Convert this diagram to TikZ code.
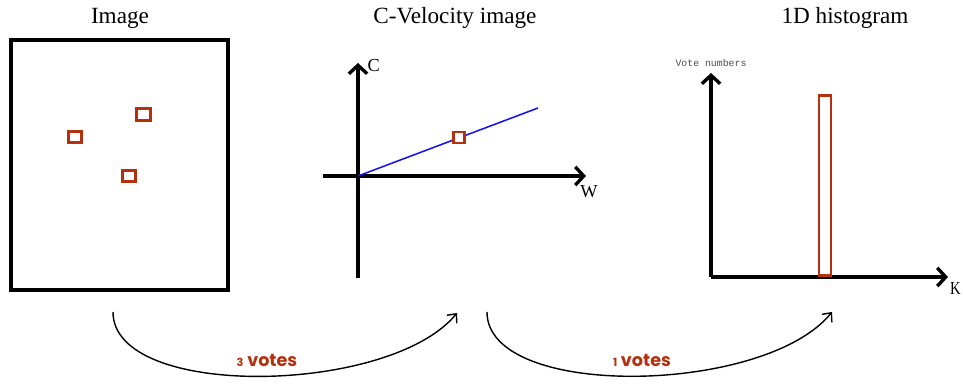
\documentclass[tikz,border=0pt]{standalone}
\usepackage{fontspec}
\setmainfont{Liberation Serif}
\newfontfamily\votefont{Poppins}
\newfontfamily\axisfont{Liberation Mono}
\usetikzlibrary{arrows.meta,positioning,calc}
\definecolor{ink}{HTML}{000000}
\definecolor{votered}{HTML}{B5300E}
\definecolor{lineblue}{HTML}{1414F0}
\tikzset{
  every node/.style={text=ink},
  title/.style={font=\fontsize{16.5}{18}\selectfont},
  frame/.style={draw=ink, line width=2.4pt, inner sep=0pt},
  pix/.style={draw=votered, line width=2pt, inner sep=0pt, minimum width=0.33cm, minimum height=0.28cm},
  axis/.style={-{Straight Barb[length=6pt, width=13pt]}, draw=ink, line width=2.4pt},
  axlabel/.style={font=\fontsize{13}{14}\selectfont, inner sep=1pt},
  bar/.style={draw=votered, line width=2pt, inner sep=0pt, minimum width=0.3cm},
  vote/.style={-{Straight Barb[length=5pt, width=9pt]}, draw=ink, line width=1pt},
  votelabel/.style={font=\votefont\bfseries\fontsize{12.5}{14}\selectfont, text=votered},
}

\begin{document}
\begin{tikzpicture}[x=0.025cm, y=-0.025cm]
  \useasboundingbox (0,0) rectangle (963,385);

  % --- panel 1: image ------------------------------------------------------
  \node[title] (t1) at (120,18) {Image};
  \node[frame, minimum width=5.425cm, minimum height=6.25cm] (img) at (119.5,165) {};
  \node[pix] (p1) at (75,137) {};
  \node[pix] (p2) at (143.5,114.5) {};
  \node[pix] (p3) at (129,176) {};

  % --- panel 2: c-velocity image -------------------------------------------
  \node[title] (t2) at (455,18) {C-Velocity image};
  \coordinate (o2) at (358,176);
  \coordinate (y2a) at (358,278);
  \coordinate (y2b) at (358,63);
  \coordinate (x2a) at (323,176);
  \coordinate (x2b) at (586,176);
  \draw[axis] (y2a) -- (y2b);
  \draw[axis] (x2a) -- (x2b);
  \node[axlabel, anchor=west] (c2) at (366,66) {C};
  \node[axlabel, anchor=north] (w2) at (589,184) {W};
  \coordinate (l2) at (538,108);
  \draw[lineblue, line width=1.1pt] (o2) -- (l2);
  \node[pix, fill=white, line width=1.6pt, minimum width=0.28cm, minimum height=0.26cm] (p4) at (459,137.5) {};

  % --- panel 3: 1d histogram -----------------------------------------------
  \node[title] (t3) at (845,18) {1D histogram};
  \coordinate (o3) at (711,277);
  \coordinate (y3b) at (711,73);
  \coordinate (x3b) at (948,277);
  \draw[axis] (o3) -- (y3b);
  \draw[axis] (o3) -- (x3b);
  \node[font=\axisfont\fontsize{7}{8}\selectfont, text=ink!70] (vn) at (711,63) {Vote numbers};
  \node[axlabel, anchor=west, inner sep=0pt, xscale=0.8] (k3) at (950,289) {K};
  \node[bar, anchor=south, minimum height=4.5cm] (b1) at (825,277) {};

  % --- votes ---------------------------------------------------------------
  \coordinate (s1) at (113,312);
  \coordinate (e1) at (457,313);
  \coordinate (s2) at (487,312);
  \coordinate (e2) at (832,312);
  \draw[vote] (s1) .. controls (113,400) and (390,395) .. (e1);
  \draw[vote] (s2) .. controls (487,400) and (765,395) .. (e2);
  \node[votelabel] (v1) at (267,360) {{\fontsize{8}{9}\selectfont 3} votes};
  \node[votelabel] (v2) at (642,360) {{\fontsize{8}{9}\selectfont 1} votes};
\end{tikzpicture}
\end{document}
